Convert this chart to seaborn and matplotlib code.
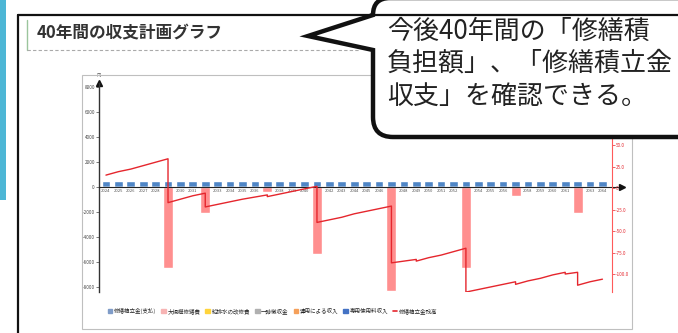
import matplotlib
matplotlib.use("Agg")
import matplotlib.pyplot as plt
from matplotlib.patches import Rectangle, PathPatch, Patch
from matplotlib.path import Path
from matplotlib.lines import Line2D
import seaborn as sns

# データ（画像から読み取った概算値）
years = [str(y) for y in range(2024, 2065)]
income = [450, 450, 450, 450, 450, 450, 450, 450, 450, 450,
          450, 450, 450, 450, 450, 450, 450, 450, 450, 450,
          450, 450, 450, 450, 450, 450, 450, 450, 450, 450,
          450, 450, 450, 450, 450, 450, 450, 450, 450, 450, 450]
expense = [0, 0, 0, 0, 0, -6450, 0, 0, -2050, 0,
           0, 0, 0, -400, 0, 0, 0, -5350, 0, 0,
           0, 0, 0, -8300, 0, 0, 0, 0, 0, -6500,
           0, 0, 0, -700, 0, 0, 0, 0, -2050, 0, 0]
balance_before = [15, 19, 22, 26, 30, 34, -13, -9, -6, -19,
                  -16, -13, -10.5, -8, -7, -4, -1, 2, -37, -34,
                  -30, -27, -24, -21, -85, -83, -81, -78, -74, -70,
                  -118, -115, -112, -109, -108, -105, -101, -98, -98, -109, -106]
balance_after = [15, 19, 22, 26, 30, -17, -13, -9, -22, -19,
                 -16, -13, -10.5, -10, -7, -4, -1, -40, -37, -34,
                 -30, -27, -24, -87, -85, -85, -81, -78, -74, -121,
                 -118, -115, -112, -112, -108, -105, -101, -100, -113, -109, -106]
left_ticks = [8000, 6000, 4000, 2000, 0, -2000, -4000, -6000, -8000]
right_ticks = [50, 25, 0, -25, -50, -75, -100]
legend_labels = ["修繕積立金(支払)", "大規模修繕費", "給排水の改修費", "一時徴収金",
                 "運用による収入", "専用使用料収入", "修繕積立金残高"]
legend_colors = ["#7F9CC8", "#F7B4B4", "#FFD43B", "#B0B0B0", "#F5A05A", "#4472C4", "#E5262D"]
title = "40年間の収支計画グラフ"
bubble_lines = ["今後40年間の「修繕積", "負担額」、「修繕積立金", "収支」を確認できる。"]

sns.set_theme(style="white")
plt.rcParams["font.family"] = ["Noto Sans CJK JP", "DejaVu Sans"]

W, H = 678, 333
fig = plt.figure(figsize=(W / 100, H / 100), dpi=100)
fig.patch.set_facecolor("white")


def box(x0, y0, x1, y1):
    # ピクセル座標 -> figure座標
    return [x0 / W, 1 - y1 / H, (x1 - x0) / W, (y1 - y0) / H]


# グラフ本体
ax = fig.add_axes(box(99, 83, 612, 292))
ax.patch.set_alpha(0)
sns.barplot(x=years, y=income, color="#4F86C6", width=0.7, saturation=1,
            errorbar=None, ax=ax)
sns.barplot(x=years, y=expense, color="#FF8F8F", width=0.8, saturation=1,
            errorbar=None, ax=ax)
ax.set_xlim(-0.56, 40.77)
ax.set_ylim(-8400, 8320)
ax.set_yticks(left_ticks)
ax.set_yticklabels([str(v) for v in left_ticks])
ax.set_xlabel("")
ax.set_ylabel("")
for s in ["top", "right"]:
    ax.spines[s].set_visible(False)
ax.spines["bottom"].set_position(("data", 0))
ax.spines["bottom"].set_color("#222222")
ax.spines["bottom"].set_linewidth(0.8)
ax.spines["left"].set_color("#333333")
ax.spines["left"].set_linewidth(1.0)
ax.tick_params(axis="x", length=0, labelsize=3, colors="#555555", pad=1.5)
ax.tick_params(axis="y", length=2, width=0.5, labelsize=3.3, colors="#444444", pad=1)
# 矢印
ax.plot([1.0, 1.02], [0, 0], color="#222222", lw=0.8,
        transform=ax.get_yaxis_transform(), clip_on=False)
ax.plot(1.02, 0, marker=">", color="#111111", ms=4,
        transform=ax.get_yaxis_transform(), clip_on=False)
ax.plot(0, 1, marker="^", color="#111111", ms=4,
        transform=ax.transAxes, clip_on=False)
ax.text(0, 1.025, "円", transform=ax.transAxes, fontsize=3, ha="center",
        va="bottom", color="#555555")

# 残高（右軸）
ax2 = ax.twinx()
xs, ys = [], []
for i in range(len(years)):
    xs += [i, i]
    ys += [balance_before[i], balance_after[i]]
sns.lineplot(x=xs, y=ys, ax=ax2, sort=False, estimator=None,
             color="#E5262D", lw=1.0)
ax2.set_xlim(-0.56, 40.77)
ax2.set_ylim(-120.9, 122.1)
ax2.set_yticks(right_ticks)
ax2.set_yticklabels(["0" if v == 0 else f"{v:.1f}" for v in right_ticks])
ax2.set_ylabel("")
for s in ["top", "left", "bottom"]:
    ax2.spines[s].set_visible(False)
ax2.spines["right"].set_color("#FF5A5A")
ax2.spines["right"].set_linewidth(0.8)
ax2.tick_params(axis="y", length=2, width=0.5, labelsize=3.3,
                colors="#E5262D", pad=1)

# 凡例
handles = [Patch(color=c) for c in legend_colors[:-1]]
handles.append(Line2D([0], [0], color=legend_colors[-1], lw=1.2))
fig.legend(handles, legend_labels, loc="center left",
           bbox_to_anchor=(103 / W, 1 - 311 / H), ncol=7, frameon=False,
           fontsize=4, handlelength=0.8, handleheight=0.8,
           handletextpad=0.3, columnspacing=0.9)

# 装飾（ページ部分）
ov = fig.add_axes([0, 0, 1, 1])
ov.set_xlim(0, W)
ov.set_ylim(H, 0)
ov.axis("off")
ov.set_zorder(10)
ov.patch.set_alpha(0)

ov.add_patch(Rectangle((0, 0), 6, 200, color="#4DB6D5", lw=0))
ov.plot([18, 18], [15, 340], color="#111111", lw=1.6)
ov.plot([18, 700], [15, 15], color="#111111", lw=1.6)
ov.plot([27, 27], [20, 50], color="#9BC59D", lw=1)
ov.plot([27, 360], [50, 50], color="#AAAAAA", lw=0.8, ls=(0, (3, 2)))
ov.text(37, 33, title, fontsize=12, fontweight="bold", color="#333333",
        va="center", ha="left")
ov.add_patch(Rectangle((82, 75), 550, 254, fill=False, ec="#BFBFBF", lw=0.8))

# 吹き出し
verts = [(308, 36), (373, 15), (373, -2), (390, -2), (720, -2), (720, 137),
         (393, 137), (373, 137), (373, 117), (373, 50), (308, 36)]
codes = [Path.MOVETO, Path.LINETO, Path.CURVE3, Path.CURVE3, Path.LINETO,
         Path.LINETO, Path.LINETO, Path.CURVE3, Path.CURVE3, Path.LINETO,
         Path.CLOSEPOLY]
ov.add_patch(PathPatch(Path(verts, codes), facecolor="white", edgecolor="#111111",
                       lw=3.2, joinstyle="miter"))
for k, line in enumerate(bubble_lines):
    ov.text(387, 31 + 32.5 * k, line, fontsize=18.7, color="#222222",
            va="center", ha="left")

fig.savefig("out.png", dpi=100)
